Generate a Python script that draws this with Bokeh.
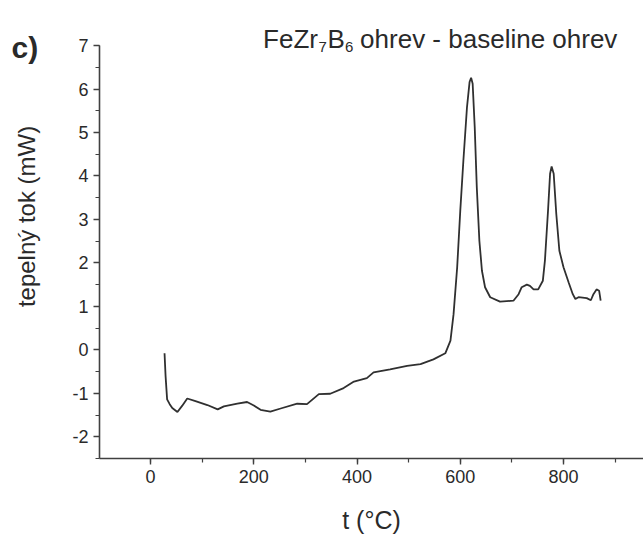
from bokeh.plotting import figure
from bokeh.models import Range1d, SingleIntervalTicker, Label, PrintfTickFormatter
from bokeh.layouts import row
from bokeh.embed import file_html
from bokeh.resources import INLINE
import math

# ---- data ----
t_c = [27, 29, 32, 37, 42, 52, 61, 71, 87, 110, 130, 142, 168, 187, 200, 213, 232,
       252, 284, 303, 326, 348, 374, 394, 419, 432, 464, 497, 523, 548, 571, 581,
       587, 594, 600, 606, 613, 618, 621, 624, 628, 632, 637, 642, 648, 658, 677,
       703, 713, 719, 729, 735, 742, 751, 760, 764, 770, 774, 777, 781, 786, 792,
       800, 810, 818, 823, 829, 845, 853, 858, 864, 869, 872]
heat_mw = [-0.08, -0.6, -1.14, -1.25, -1.34, -1.43, -1.29, -1.12, -1.18, -1.27, -1.37,
           -1.30, -1.24, -1.20, -1.28, -1.38, -1.42, -1.35, -1.24, -1.25, -1.02, -1.01,
           -0.88, -0.73, -0.65, -0.52, -0.45, -0.37, -0.33, -0.22, -0.08, 0.21, 0.82,
           1.90, 3.20, 4.35, 5.58, 6.16, 6.26, 6.12, 5.12, 3.74, 2.51, 1.82, 1.44, 1.21,
           1.11, 1.13, 1.28, 1.44, 1.50, 1.47, 1.39, 1.39, 1.59, 2.05, 3.20, 4.05, 4.22,
           4.05, 3.13, 2.28, 1.90, 1.55, 1.28, 1.17, 1.21, 1.19, 1.14, 1.28, 1.39, 1.36,
           1.13]

x_label = "t (°C)"
y_label = "tepelný tok (mW)"
panel_tag = "c)"
title_parts = ["FeZr", "7", "B", "6", "ohrev - baseline ohrev"]

FONT = "Liberation Sans"
INK = "#2a2a2a"

LEFT_W = 46

# ---- left strip: panel tag and y-axis title ----
side = figure(width=LEFT_W, height=538, x_range=Range1d(0, LEFT_W), y_range=Range1d(538, 0),
              x_axis_type=None, y_axis_type=None, output_backend="svg",
              toolbar_location=None, min_border=0)
side.outline_line_color = None
side.xgrid.visible = False
side.ygrid.visible = False
side.add_layout(Label(x=11, y=42, text=panel_tag, text_font=FONT,
                      text_font_size="30px", text_font_style="bold", text_color=INK,
                      text_align="left", text_baseline="alphabetic"))
side.add_layout(Label(x=26, y=246, text=y_label, text_font=FONT,
                      text_font_size="24px", text_color=INK, angle=math.pi / 2,
                      text_align="center", text_baseline="middle"))

# ---- main plot ----
Y_TOP = 7.76
p = figure(width=643 - LEFT_W, height=538, x_range=Range1d(-99, 955),
           y_range=Range1d(-2.5, Y_TOP),
           output_backend="svg", toolbar_location=None,
           min_border_left=99 - LEFT_W, min_border_right=0, min_border_top=12,
           min_border_bottom=80)
p.outline_line_color = None
p.xgrid.visible = False
p.ygrid.visible = False

p.line(t_c, heat_mw, line_color="#303030", line_width=1.8)

for ax in (p.xaxis, p.yaxis):
    ax.axis_line_color = "#404040"
    ax.axis_line_width = 1.6
    ax.major_tick_line_color = "#404040"
    ax.minor_tick_line_color = "#404040"
    ax.major_tick_line_width = 1.4
    ax.minor_tick_line_width = 1.2
    ax.major_tick_out = 6
    ax.major_tick_in = 0
    ax.minor_tick_out = 4
    ax.minor_tick_in = 0
    ax.major_label_text_font = FONT
    ax.major_label_text_font_size = "18px"
    ax.major_label_text_color = INK
    ax.major_label_standoff = 5
    ax.formatter = PrintfTickFormatter(format="%d")

p.xaxis.ticker = SingleIntervalTicker(interval=200, num_minor_ticks=2)
p.yaxis.ticker = SingleIntervalTicker(interval=1, num_minor_ticks=2)
p.yaxis.bounds = (-2.5, 7)

p.xaxis.axis_label = x_label
p.xaxis.axis_label_text_font = FONT
p.xaxis.axis_label_text_font_size = "25px"
p.xaxis.axis_label_text_font_style = "normal"
p.xaxis.axis_label_text_color = INK
p.xaxis.axis_label_standoff = 20

# title with subscripts (inside the frame, above the y-axis end)
big = 26
small = 15
x0 = 218
offsets = [0, 55.5, 64.5, 82, 97]
sizes = [big, small, big, small, big]
bases = [7.14, 6.955, 7.14, 6.955, 7.14]
for txt, off, sz, base in zip(title_parts, offsets, sizes, bases):
    p.add_layout(Label(x=x0, y=base, x_offset=off, text=txt, text_font=FONT,
                       text_font_size=f"{sz}px", text_color=INK,
                       text_align="left", text_baseline="alphabetic"))

layout = row(side, p, spacing=0)
open("out.html", "w").write(file_html(layout, INLINE))
